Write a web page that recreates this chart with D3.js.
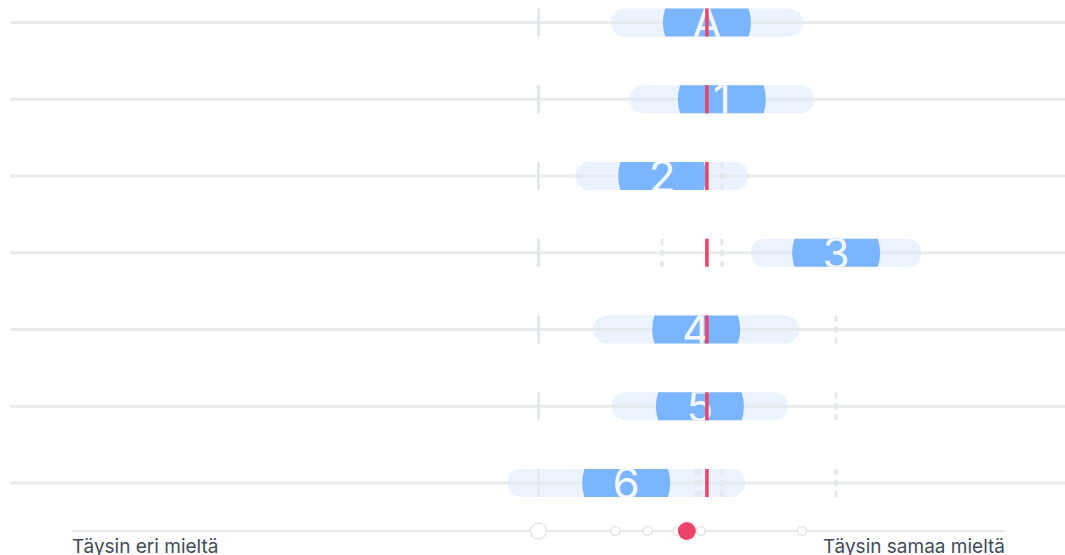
<!DOCTYPE html>
<html>
<head>
<meta charset="utf-8">
<script src="https://cdn.jsdelivr.net/npm/d3@7"></script>
<style>
  html, body { margin: 0; padding: 0; background: #fff; }
  svg { display: block; }
</style>
</head>
<body>
<div id="chart"></div>
<script>
// statements (rows) and where answers sit on the -1..1 agreement scale
const rowLabels = ["A", "1", "2", "3", "4", "5", "6"];
const rowMeans = [0.361, 0.393, 0.265, 0.638, 0.338, 0.346, 0.188];
const rowSpread = [0.206, 0.198, 0.186, 0.183, 0.221, 0.189, 0.255];
const markerValue = 0.361; // red reference line

// bottom scale
const scaleDots = [0.165, 0.234, 0.298, 0.348, 0.565];
const scaleCenter = 0;
const userValue = 0.318;
const endLabels = ["Täysin eri mieltä", "Täysin samaa mieltä"];

const width = 1065, height = 555;
const bandHalf = 14;
const bubbleR = 44;

const svg = d3.select("#chart").append("svg")
    .attr("width", width)
    .attr("height", height);

const x = d3.scaleLinear().domain([-1, 1]).range([72, 1005]);
const y = d3.scalePoint().domain(rowLabels).range([22.5, 483]);

const defs = svg.append("defs");

let rows = svg.selectAll("g.row")
    .data(rowLabels)
    .enter().append("g")
    .attr("class", "row")
    .attr("transform", d => `translate(0,${y(d)})`);

rows.each(function(d, i) {
    defs.append("clipPath").attr("id", `clip${i}`)
        .append("rect")
        .attr("x", 0).attr("y", -bandHalf)
        .attr("width", width).attr("height", bandHalf * 2);
});

// spread pill
rows.append("rect")
    .attr("x", (d, i) => x(rowMeans[i] - rowSpread[i]))
    .attr("width", (d, i) => x(rowMeans[i] + rowSpread[i]) - x(rowMeans[i] - rowSpread[i]))
    .attr("y", -bandHalf)
    .attr("height", bandHalf * 2)
    .attr("rx", bandHalf)
    .attr("fill", "#ebf3fe");

// row line
rows.append("line")
    .attr("x1", 10).attr("x2", width)
    .attr("stroke", "#e3e8eb")
    .attr("stroke-opacity", 0.8)
    .attr("stroke-width", 3);

// neutral tick
rows.append("line")
    .attr("x1", x(scaleCenter)).attr("x2", x(scaleCenter))
    .attr("y1", -bandHalf).attr("y2", bandHalf)
    .attr("stroke", "#e3e8eb")
    .attr("stroke-width", 3);

// dashed ticks for earlier statements
rows.each(function(d, i) {
    d3.select(this).selectAll("line.prev")
        .data(rowMeans.slice(0, i))
        .enter().append("line")
        .attr("class", "prev")
        .attr("x1", v => x(v)).attr("x2", v => x(v))
        .attr("y1", -bandHalf).attr("y2", bandHalf)
        .attr("stroke", "#e3e8eb")
        .attr("stroke-width", 3)
        .attr("stroke-dasharray", "6,5");
});

// bubble + label, clipped to band
let bubble = rows.append("g")
    .attr("clip-path", (d, i) => `url(#clip${i})`);

bubble.append("circle")
    .attr("cx", (d, i) => x(rowMeans[i]))
    .attr("r", bubbleR)
    .attr("fill", "#7bb5ff");

bubble.append("text")
    .attr("x", (d, i) => x(rowMeans[i]))
    .attr("y", 16)
    .attr("text-anchor", "middle")
    .attr("font-family", "Inter, 'Open Sans', sans-serif")
    .attr("font-size", 44)
    .attr("fill", "#f3f7ff")
    .text(d => d);

// red reference line
rows.append("line")
    .attr("x1", x(markerValue)).attr("x2", x(markerValue))
    .attr("y1", -bandHalf).attr("y2", bandHalf)
    .attr("stroke", "#ec4469")
    .attr("stroke-width", 3.5);

// bottom agreement scale
const axisY = 531;
const axis = svg.append("g").attr("class", "scale");

axis.append("line")
    .attr("x1", x.range()[0]).attr("x2", x.range()[1])
    .attr("y1", axisY).attr("y2", axisY)
    .attr("stroke", "#e6eaed")
    .attr("stroke-width", 2);

axis.append("circle")
    .attr("cx", x(scaleCenter)).attr("cy", axisY)
    .attr("r", 8)
    .attr("fill", "#fff")
    .attr("stroke", "#e3e7ea")
    .attr("stroke-width", 1.5);

axis.selectAll("circle.dot")
    .data(scaleDots)
    .enter().append("circle")
    .attr("class", "dot")
    .attr("cx", d => x(d)).attr("cy", axisY)
    .attr("r", 4.5)
    .attr("fill", "#fff")
    .attr("stroke", "#e3e7ea")
    .attr("stroke-width", 1.5);

axis.append("circle")
    .attr("cx", x(userValue)).attr("cy", axisY)
    .attr("r", 9)
    .attr("fill", "#ec4469");

axis.selectAll("text")
    .data(endLabels)
    .enter().append("text")
    .attr("x", (d, i) => x.range()[i])
    .attr("y", 553)
    .attr("text-anchor", (d, i) => i ? "end" : "start")
    .attr("font-family", "Inter, 'Open Sans', sans-serif")
    .attr("font-size", 19)
    .attr("fill", "#3f4b59")
    .text(d => d);
</script>
</body>
</html>
